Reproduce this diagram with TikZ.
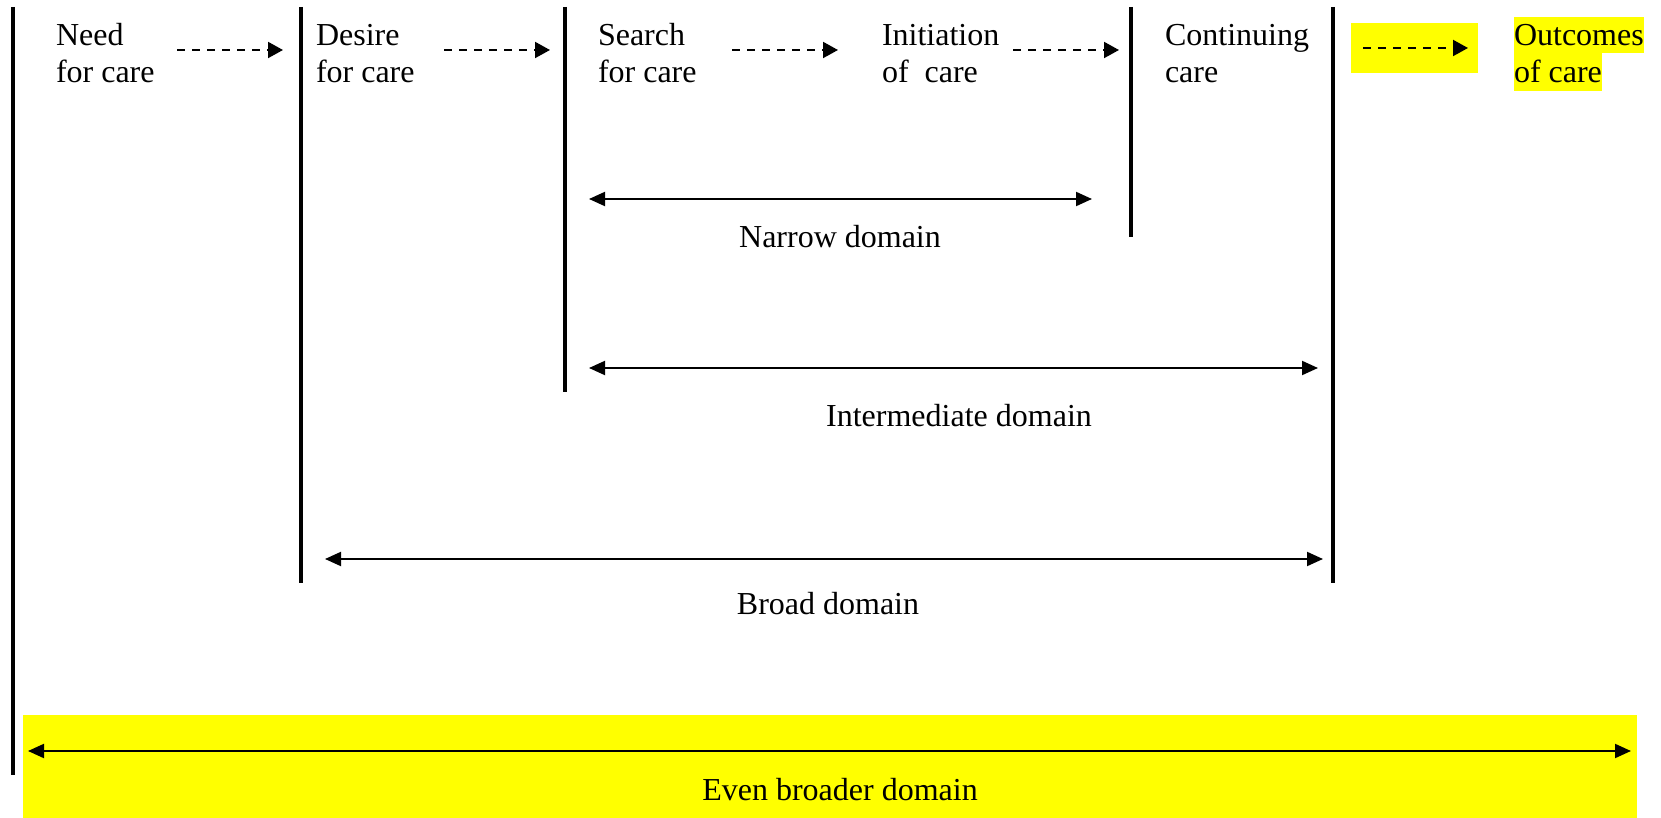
\documentclass[tikz,border=0pt]{standalone}
\usepackage{fontspec}
\setmainfont{Liberation Serif}
\usetikzlibrary{arrows.meta}
\definecolor{hl}{RGB}{255,255,0}
\begin{document}
\begin{tikzpicture}[x=0.5pt,y=-0.5pt,
  every node/.style={font=\fontsize{16pt}{18.5pt}\selectfont, inner sep=0pt, outer sep=0pt},
  stage/.style={align=left, anchor=base west},
  divider/.style={line width=2pt},
  flow/.style={line width=1pt, dash pattern=on 4pt off 3.5pt, -{Triangle[length=7.5pt,width=8pt]}},
  span/.style={line width=1pt, {Triangle[length=8pt,width=7pt]}-{Triangle[length=8pt,width=7pt]}},
  domlabel/.style={anchor=base},
  band/.style={fill=hl}
]
\useasboundingbox (0,0) rectangle (1661,818);

% yellow bands
\fill[band] (23,715) rectangle (1637,818);
\fill[band] (1351,23) rectangle (1478,73);

% stages of care (anchored on the baseline of the second line)
\node[stage] (need) at (56,83) {Need\\for care};
\node[stage] (desire) at (316,83) {Desire\\for care};
\node[stage] (search) at (598,83) {Search\\for care};
\node[stage] (init) at (882,83) {Initiation\\of~~care};
\node[stage] (cont) at (1165,83) {Continuing\\care};
\node[stage, band, text height=14.5pt, text depth=3.5pt] (outc) at (1514,46) {Outcomes};
\node[stage, band, text height=15pt, text depth=4pt] (outc2) at (1514,83) {of care};

% dashed flow arrows between stages
\coordinate (f1s) at (177,50);  \coordinate (f1e) at (283,50);
\coordinate (f2s) at (444,50);  \coordinate (f2e) at (550,50);
\coordinate (f3s) at (732,50);  \coordinate (f3e) at (838,50);
\coordinate (f4s) at (1013,50); \coordinate (f4e) at (1119,50);
\coordinate (f5s) at (1363,48); \coordinate (f5e) at (1468,48);
\draw[flow] (f1s) -- (f1e);
\draw[flow] (f2s) -- (f2e);
\draw[flow] (f3s) -- (f3e);
\draw[flow] (f4s) -- (f4e);
\draw[flow] (f5s) -- (f5e);

% domain boundaries
\coordinate (b0t) at (13,7);    \coordinate (b0b) at (13,775);
\coordinate (b1t) at (301,7);   \coordinate (b1b) at (301,583);
\coordinate (b2t) at (564.5,7); \coordinate (b2b) at (564.5,392);
\coordinate (b3t) at (1131,7);  \coordinate (b3b) at (1131,237);
\coordinate (b4t) at (1332.5,7);\coordinate (b4b) at (1332.5,583);
\draw[divider] (b0t) -- (b0b);
\draw[divider] (b1t) -- (b1b);
\draw[divider] (b2t) -- (b2b);
\draw[divider] (b3t) -- (b3b);
\draw[divider] (b4t) -- (b4b);

% domain spans
\coordinate (n1) at (589,199);  \coordinate (n2) at (1092,199);
\coordinate (i1) at (589,368);  \coordinate (i2) at (1318,368);
\coordinate (r1) at (325,559);  \coordinate (r2) at (1323,559);
\coordinate (e1) at (28,751);   \coordinate (e2) at (1631,751);
\draw[span] (n1) -- (n2);
\draw[span] (i1) -- (i2);
\draw[span] (r1) -- (r2);
\draw[span] (e1) -- (e2);

\node[domlabel] (narrow) at (840,248) {Narrow domain};
\node[domlabel] (inter) at (959,427) {Intermediate domain};
\node[domlabel] (broad) at (828,614) {Broad domain};
\node[domlabel] (even) at (840,800) {Even broader domain};
\end{tikzpicture}
\end{document}
